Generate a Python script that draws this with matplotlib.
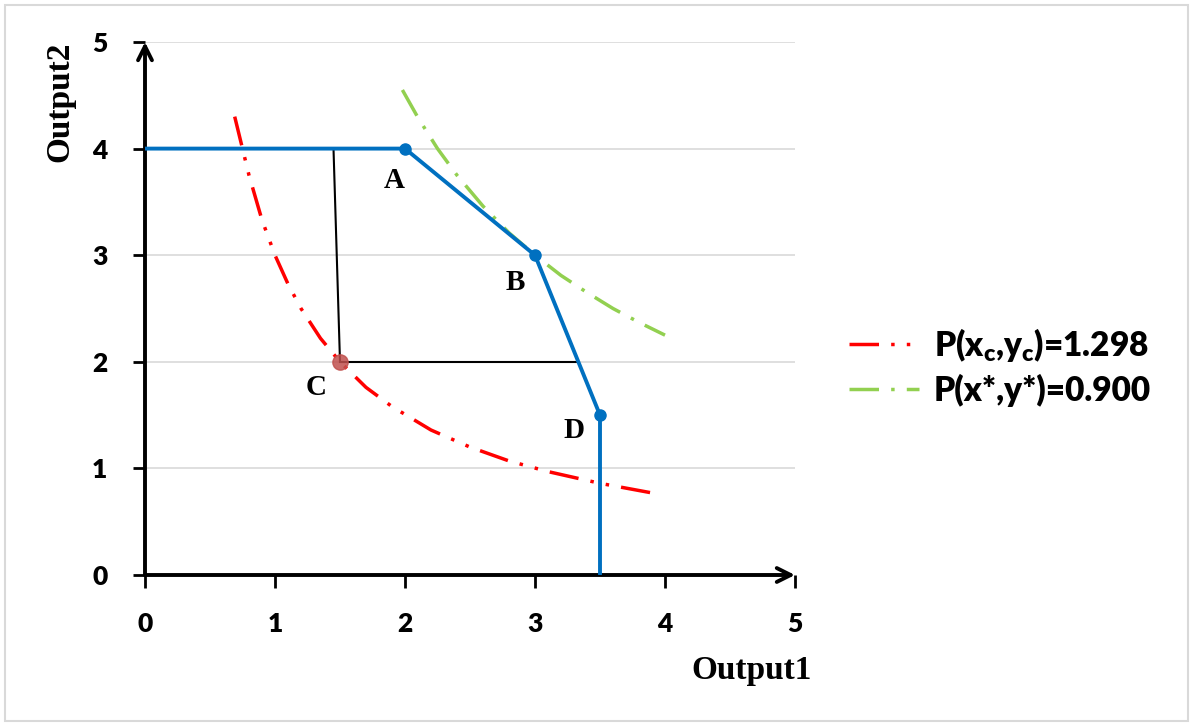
# production frontier with two iso-curves

import matplotlib.pyplot as plt
from matplotlib.patches import Rectangle

# frontier corners (A, B, D and the ends on the axes)
frontier_x = [0, 2, 3, 3.5, 3.5]
frontier_y = [4, 4, 3, 1.5, 0]
corner_x = [2, 3, 3.5]
corner_y = [4, 3, 1.5]

# point C
c_x, c_y = 1.5, 2

# black helper lines
vline_x = [1.45, 1.5]
vline_y = [4, 2]
hline_x = [1.5, 3.33]
hline_y = [2, 2]

# red curve P(xc,yc)=1.298
red_x = [0.69, 0.75, 0.8, 0.9, 1.0, 1.1, 1.2, 1.35, 1.5, 1.7, 1.9, 2.2, 2.5, 2.8, 3.1, 3.5, 3.9]
red_y = [4.30, 4.0, 3.75, 3.33, 3.0, 2.73, 2.5, 2.22, 2.0, 1.76, 1.58, 1.36, 1.2, 1.07, 0.97, 0.86, 0.77]

# green curve P(x*,y*)=0.900
green_x = [1.98, 2.1, 2.25, 2.4, 2.6, 2.8, 3.0, 3.2, 3.4, 3.6, 3.8, 4.0]
green_y = [4.55, 4.29, 4.0, 3.75, 3.46, 3.21, 3.0, 2.81, 2.65, 2.5, 2.37, 2.25]

labels = ['P(x$_c$,y$_c$)=1.298', 'P(x*,y*)=0.900']

plt.rcParams['mathtext.fontset'] = 'custom'
plt.rcParams['mathtext.rm'] = 'Lato:heavy'
plt.rcParams['mathtext.it'] = 'Lato:heavy'
plt.rcParams['mathtext.bf'] = 'Lato:heavy'
plt.rcParams['mathtext.default'] = 'rm'
plt.rcParams['xtick.major.pad'] = 18
plt.rcParams['ytick.major.pad'] = 18

fig = plt.figure(figsize=(11.93, 7.26), dpi=100)
ax = fig.add_axes([145 / 1193, 1 - 575 / 726, 650 / 1193, 533 / 726])

# grid lines
for g in [1, 2, 3, 4, 5]:
    ax.axhline(g, color='#d9d9d9', lw=1.2, zorder=0)

red, = ax.plot(red_x, red_y, color='#ff0000', lw=2.5, dashes=(8.5, 3.5, 1, 3.5, 1, 3.5), zorder=2)
green, = ax.plot(green_x, green_y, color='#92d050', lw=2.5, dashes=(8.5, 3.5, 1, 3.5), zorder=2)

ax.plot(vline_x, vline_y, color='black', lw=1.5, zorder=3)
ax.plot(hline_x, hline_y, color='black', lw=1.5, zorder=3)

ax.plot(frontier_x, frontier_y, color='#0070c0', lw=2.8, zorder=4)
ax.plot(corner_x, corner_y, 'o', color='#0070c0', ms=8, zorder=5)
ax.plot([c_x], [c_y], 'o', color='#c0504d', alpha=0.85, ms=11, zorder=5)

# point labels
serif = dict(family='Liberation Serif', weight='bold', fontsize=21)
ax.text(1.92, 3.70, 'A', ha='center', va='center', **serif)
ax.text(2.85, 2.74, 'B', ha='center', va='center', **serif)
ax.text(1.32, 1.76, 'C', ha='center', va='center', **serif)
ax.text(3.30, 1.36, 'D', ha='center', va='center', **serif)

# axes with arrows
ax.set_xlim(0, 5)
ax.set_ylim(0, 5)
for s in ax.spines.values():
    s.set_visible(False)
for end in [(5, 0), (0, 5)]:
    ax.annotate('', xy=end, xytext=(0, 0),
                arrowprops=dict(arrowstyle='->', lw=2.8, color='black', mutation_scale=25,
                                shrinkA=0, shrinkB=0), annotation_clip=False)
ax.set_xticks([0, 1, 2, 3, 4, 5])
ax.set_yticks([0, 1, 2, 3, 4, 5])
ax.set_xticklabels(['0', '1', '2', '3', '4', '5'], family='Lato', weight='heavy', fontsize=19)
ax.set_yticklabels(['0', '1', '2', '3', '4', '5'], family='Lato', weight='heavy', fontsize=19)
ax.tick_params(direction='out', length=9, width=2, color='black')

fig.text(60 / 1193, 1 - 102 / 726, 'Output2', rotation=90, ha='center', va='center',
         family='Liberation Serif', weight='bold', fontsize=24)
fig.text(812 / 1193, 1 - 670 / 726, 'Output1', ha='right', va='center',
         family='Liberation Serif', weight='bold', fontsize=24)

fig.legend([red, green], labels, loc='upper left',
           bbox_to_anchor=(832 / 1193, 1 - 309 / 726), frameon=False,
           borderpad=0, handlelength=2.1, handletextpad=0.45, labelspacing=0.3,
           prop=dict(family='Lato', weight='heavy', size=24))

# light frame round the figure
fig.patches.append(Rectangle((5 / 1193, 5 / 726), 1183 / 1193, 716 / 726,
                             transform=fig.transFigure, fill=False,
                             edgecolor='#d9d9d9', lw=1.5))

fig.savefig('out.png', dpi=100)
